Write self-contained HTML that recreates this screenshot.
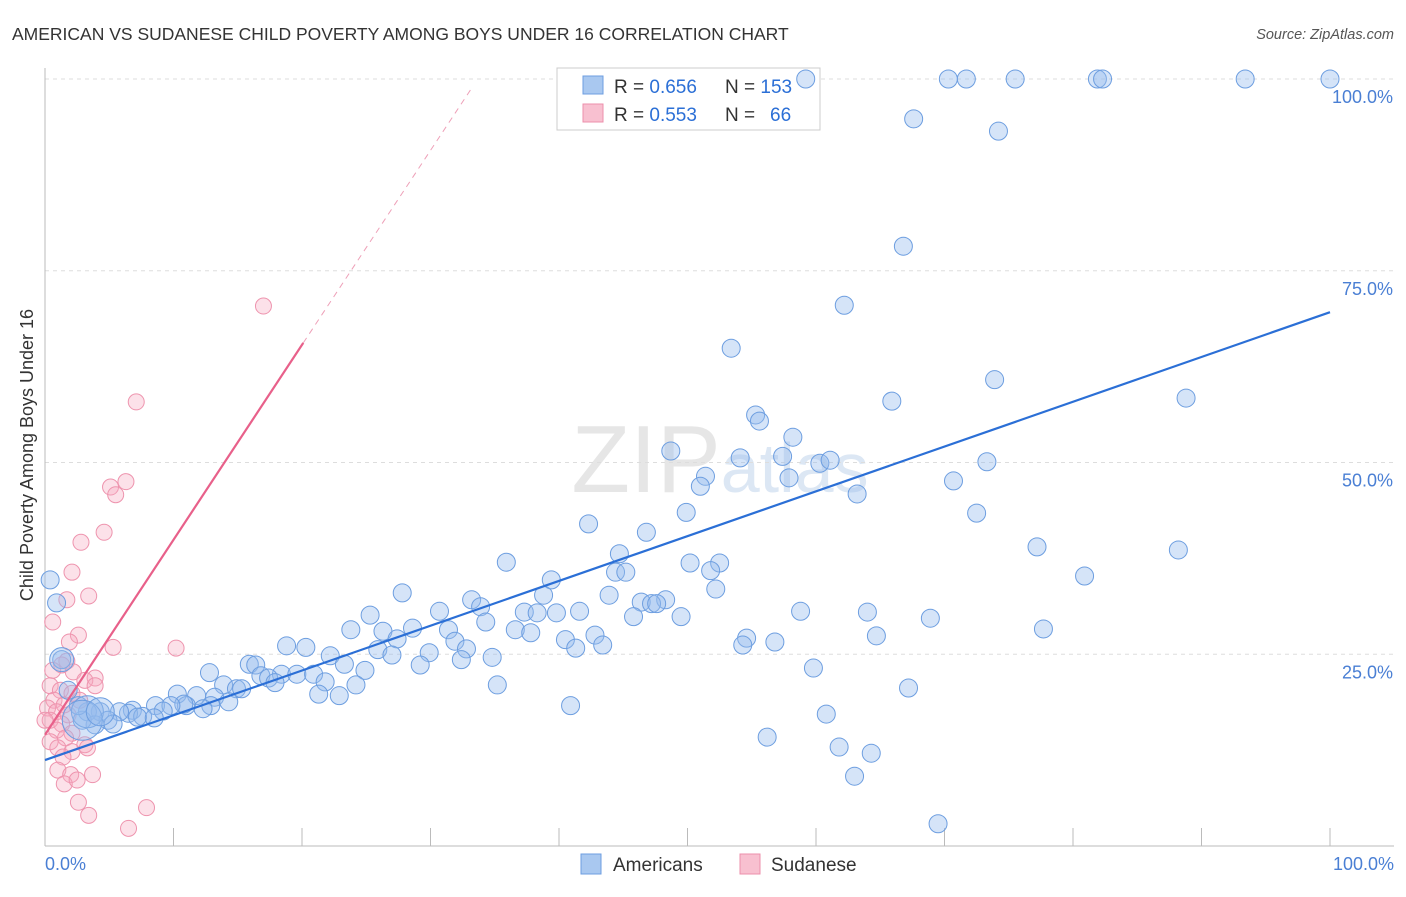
<!DOCTYPE html>
<html><head><meta charset="utf-8"><style>
body{margin:0;background:#fff;font-family:"Liberation Sans",sans-serif;}
svg text{font-family:"Liberation Sans",sans-serif;}
</style></head><body>
<svg id="chart" width="1406" height="892" xmlns="http://www.w3.org/2000/svg">
<text x="12" y="40" font-size="17.5" fill="#333">AMERICAN VS SUDANESE CHILD POVERTY AMONG BOYS UNDER 16 CORRELATION CHART</text>
<text x="1394" y="39" font-size="14.5" fill="#555" font-style="italic" text-anchor="end">Source: ZipAtlas.com</text>
<text x="720" y="492" font-size="96" fill="#e6e6e6" text-anchor="middle" font-family="Liberation Serif">ZIP<tspan fill="#dce7f4" font-family="Liberation Sans" font-size="70">atlas</tspan></text>
<g id="grid"></g>
<g id="axes"></g>
<g>
<rect x="557" y="68" width="263" height="62" fill="#fff" stroke="#ccc"/>
<rect x="583" y="76" width="20" height="18" fill="#a9c8f0" stroke="#6d9ee0"/>
<rect x="583" y="104" width="20" height="18" fill="#f8c0d0" stroke="#ec8fab"/>
<text x="614" y="93" font-size="19" fill="#333">R = <tspan fill="#2b6fd6">0.656</tspan></text>
<text x="725" y="93" font-size="19" fill="#333">N = <tspan fill="#2b6fd6">153</tspan></text>
<text x="614" y="121" font-size="19" fill="#333">R = <tspan fill="#2b6fd6">0.553</tspan></text>
<text x="725" y="121" font-size="19" fill="#333">N = </text>
<text x="770" y="121" font-size="19" fill="#2b6fd6">66</text>
</g>
<g id="pts"></g>
<g id="trend"></g>
<text x="33" y="455" font-size="18" fill="#333" text-anchor="middle" transform="rotate(-90 33 455)">Child Poverty Among Boys Under 16</text>
<g>
<rect x="581" y="854" width="20" height="20" fill="#a9c8f0" stroke="#6d9ee0"/>
<text x="613" y="871" font-size="19" fill="#333">Americans</text>
<rect x="740" y="854" width="20" height="20" fill="#f8c0d0" stroke="#ec8fab"/>
<text x="771" y="871" font-size="19" fill="#333">Sudanese</text>
</g>
</svg>
<script>
const amX=[59.2,70.3,71.7,75.5,81.9,82.3,93.4,100,67.6,74.2,66.8,62.2,53.4,73.9,65.9,88.8,55.3,55.6,58.2,48.7,54.1,57.4,60.3,61.1,73.3,51.4,57.9,51.0,70.7,63.2,49.9,72.5,42.3,46.8,77.2,88.2,44.7,35.9,50.2,52.5,51.8,44.4,45.2,80.9,39.4,52.2,27.8,38.8,43.9,33.2,48.3,46.4,47.2,47.6,33.9,41.6,30.7,39.8,37.3,38.3,58.8,64.0,45.8,49.5,25.3,68.9,34.3,23.8,31.4,36.6,37.8,26.3,77.7,28.6,64.7,42.8,40.5,54.6,27.4,31.9,56.8,54.3,43.4,18.8,20.3,41.3,32.8,29.9,25.9,27.0,22.2,34.8,32.4,23.3,29.2,15.9,16.4,59.8,24.9,12.8,18.4,19.6,20.9,16.8,17.4,21.8,17.9,13.9,24.2,35.2,67.2,14.9,15.3,21.3,10.3,22.9,11.8,13.2,14.3,11.0,10.8,8.6,9.8,12.9,12.3,9.2,6.8,6.5,7.6,5.8,7.2,60.8,40.9,8.5,4.3,3.3,4.9,5.3,3.9,2.9,56.2,61.8,64.3,63.0,69.5,0.4,0.9,1.3,2.6,1.8];
const amY=[100,100,100,100,100,100,100,100,94.8,93.2,78.2,70.5,64.9,60.8,58.0,58.4,56.2,55.4,53.3,51.5,50.6,50.8,49.9,50.3,50.1,48.2,48.0,46.9,47.6,45.9,43.5,43.4,42.0,40.9,39.0,38.6,38.1,37.0,36.9,36.9,35.9,35.7,35.7,35.2,34.7,33.5,33.0,32.7,32.7,32.1,32.1,31.8,31.6,31.6,31.2,30.6,30.6,30.4,30.5,30.4,30.6,30.5,29.9,29.9,30.1,29.7,29.2,28.2,28.2,28.2,27.8,28.0,28.3,28.4,27.4,27.5,26.9,27.1,27.0,26.7,26.6,26.2,26.2,26.1,25.9,25.8,25.7,25.2,25.6,24.9,24.8,24.6,24.3,23.7,23.6,23.7,23.6,23.2,22.9,22.6,22.4,22.4,22.4,22.2,21.9,21.4,21.3,21.0,21.0,21.0,20.6,20.5,20.5,19.8,19.8,19.6,19.6,19.4,18.8,18.3,18.5,18.3,18.3,18.3,17.9,17.6,17.7,17.3,16.9,17.5,16.8,17.2,18.3,16.7,17.5,17.5,16.4,15.9,15.8,16.4,14.2,12.9,12.1,9.1,2.9,34.7,31.7,24.3,18.3,20.3];
const bigX=[3.3,2.9,1.3,4.3];
const bigY=[17.5,16.4,24.3,17.5];
const suX=[17.0,7.1,5.1,6.3,5.5,4.6,2.8,2.1,3.4,1.7,0.6,2.6,1.9,5.3,10.2,1.7,1.3,0.6,2.2,3.9,3.1,0.4,1.2,2.1,0.7,1.5,0.2,0.9,1.8,0.4,1.3,0.9,2.1,1.6,0.4,1.0,3.1,2.1,1.4,3.3,1.0,2.0,3.7,1.5,2.5,2.6,3.4,7.9,6.5,3.9,2.7,0.0];
const suY=[70.4,57.9,46.8,47.5,45.8,40.9,39.6,35.7,32.6,32.1,29.2,27.5,26.6,25.9,25.8,24.1,23.6,22.9,22.7,21.9,21.6,20.9,20.3,19.9,19.0,18.4,18.0,17.5,17.1,16.4,15.9,15.1,14.7,14.1,13.6,12.8,13.2,12.3,11.6,12.8,9.9,9.3,9.3,8.1,8.6,5.7,4.0,5.0,2.3,20.9,19.0,16.4];
const amTrend=[11.2,69.6];
const suTrend=[14.5,65.6,98.8];
const xTicks=[0,10,20,30,40,50,60,70,80,90,100];
const yTicks=[25,50,75,100];
const X=v=>45+v*12.85, Y=v=>846-v*7.67;
const NS="http://www.w3.org/2000/svg";
function mk(t,a,p){const e=document.createElementNS(NS,t);for(const k in a)e.setAttribute(k,a[k]);p.appendChild(e);return e;}
const grid=document.getElementById('grid'),axes=document.getElementById('axes'),pts=document.getElementById('pts'),tr=document.getElementById('trend');
yTicks.forEach(v=>{const l=mk('line',{x1:45,x2:1394,y1:Y(v),y2:Y(v),stroke:'#ddd','stroke-dasharray':'4,4'},grid);


const t=mk('text',{x:1393,y:Y(v)+24,'font-size':18,fill:'#4a7fd4','text-anchor':'end'},axes);t.textContent=v.toFixed(1)+'%';

});
mk('line',{x1:45,x2:45,y1:68,y2:846,stroke:'#bbb'},axes);
mk('line',{x1:45,x2:1394,y1:846,y2:846,stroke:'#bbb'},axes);
xTicks.slice(1).forEach(v=>{const l=mk('line',{x1:X(v),x2:X(v),y1:828,y2:846,stroke:'#bbb'},axes);

});
[[0,'start',45],[100,'end',1394]].forEach(([v,a,x])=>{const t=mk('text',{x:x,y:870,'font-size':18,fill:'#4a7fd4','text-anchor':a},axes);t.textContent=v.toFixed(1)+'%';

});
suX.forEach((x,i)=>{const c=mk('circle',{cx:X(x),cy:Y(suY[i]),r:8,fill:'rgba(246,170,192,0.35)',stroke:'#ee94ae','stroke-width':1},pts);

});
amX.forEach((x,i)=>{const c=mk('circle',{cx:X(x),cy:Y(amY[i]),r:9,fill:'rgba(150,188,238,0.4)',stroke:'#6d9ee0','stroke-width':1},pts);

});
const bigR=[16,20,12,14];
bigX.forEach((x,i)=>{const c=mk('circle',{cx:X(x),cy:Y(bigY[i]),r:bigR[i],fill:'rgba(150,188,238,0.4)',stroke:'#6d9ee0','stroke-width':1},pts);

});
const bl=mk('line',{x1:X(0),y1:Y(amTrend[0]),x2:X(100),y2:Y(amTrend[1]),stroke:'#2b6fd6','stroke-width':2.2},tr);


const pl=mk('line',{x1:X(0),y1:Y(suTrend[0]),x2:X(20.1),y2:Y(suTrend[1]),stroke:'#e8608a','stroke-width':2.2},tr);


const pd=mk('line',{x1:X(20.1),y1:Y(suTrend[1]),x2:X(33.2),y2:Y(suTrend[2]),stroke:'#eea0b8','stroke-width':1,'stroke-dasharray':'6,5'},tr);


</script>
</body></html>
